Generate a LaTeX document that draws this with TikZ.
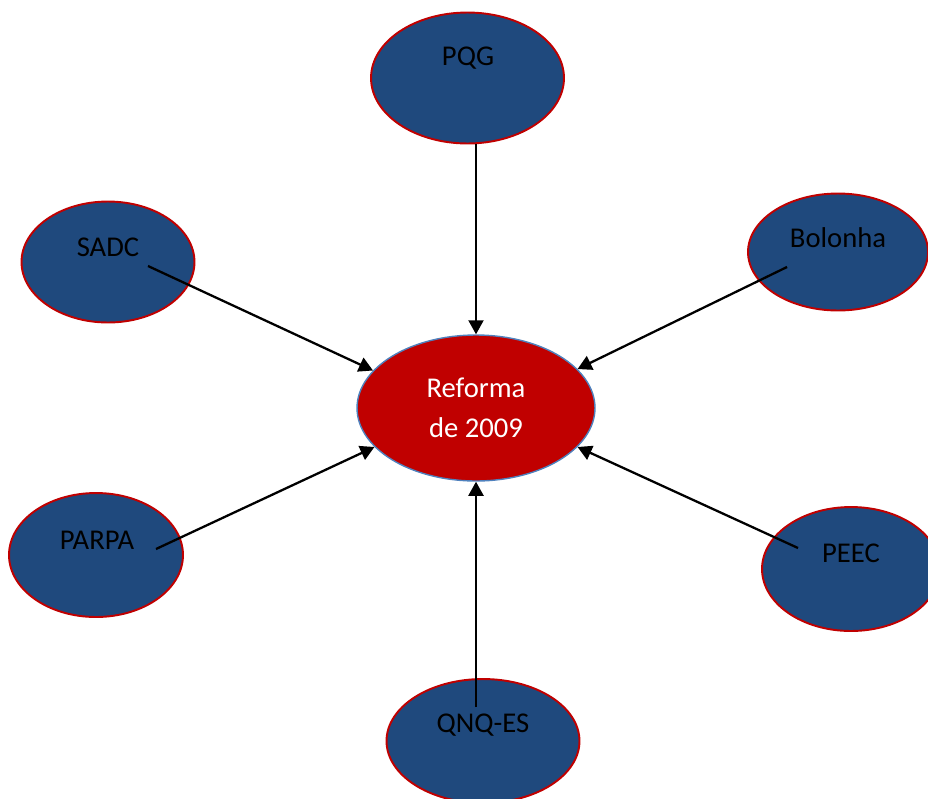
\documentclass[tikz,border=0pt]{standalone}
\usepackage{fontspec}
\setmainfont{Carlito}
\usepackage{tikz}
\usetikzlibrary{shapes.geometric, arrows.meta, positioning}
\usepackage{xcolor}

\definecolor{navyfill}{HTML}{1F497D}
\definecolor{rimred}{HTML}{C00000}
\definecolor{reformred}{HTML}{C00000}
\definecolor{rimblue}{HTML}{4F81BD}

\begin{document}
\begin{tikzpicture}[x=0.02cm, y=-0.02cm,
    source/.style={ellipse, draw=rimred, line width=1.1pt, fill=navyfill, inner sep=0pt},
    tag/.style={inner sep=0pt, text=black, font=\fontsize{16.3}{22.7}\selectfont},
    link/.style={-{Triangle[length=8pt, width=8.5pt]}, line width=1.3pt, black}]
    \clip (0,0) rectangle (928,798);
    \useasboundingbox (0,0) rectangle (928,798);

    % centre
    \node[ellipse, draw=rimblue, line width=0.8pt, fill=reformred, minimum width=4.76cm, minimum height=2.92cm,
          align=center, text=white, font=\fontsize{16.3}{22.7}\selectfont] (reforma) at (476,408) {Reforma\\de 2009};

    % outer ellipses
    \node[source, minimum width=3.86cm, minimum height=2.62cm] (pqg) at (467.5,78) {};
    \node[source, minimum width=3.46cm, minimum height=2.42cm] (sadc) at (108,262) {};
    \node[source, minimum width=3.6cm, minimum height=2.34cm] (bolonha) at (838,252) {};
    \node[source, minimum width=3.48cm, minimum height=2.48cm] (parpa) at (96,555) {};
    \node[source, minimum width=3.56cm, minimum height=2.48cm] (peec) at (851,569) {};
    \node[source, minimum width=3.86cm, minimum height=2.48cm] (qnq) at (483,741) {};

    % labels
    \node[tag] (pqg-txt) at (468,58) {PQG};
    \node[tag] (sadc-txt) at (108,247) {SADC};
    \node[tag] (bolonha-txt) at (838,238) {Bolonha};
    \node[tag] (parpa-txt) at (97,540) {PARPA};
    \node[tag] (peec-txt) at (851,553) {PEEC};
    \node[tag] (qnq-txt) at (483,725) {QNQ-ES};

    % arrow starts
    \coordinate (sadc-out) at (148,266);
    \coordinate (bolonha-out) at (787,267);
    \coordinate (parpa-out) at (156,549);
    \coordinate (peec-out) at (798,548);
    \coordinate (qnq-out) at (476,707);

    \draw[link] (pqg.south -| reforma.north) -- (reforma.north);
    \draw[link] (sadc-out) -- (reforma.160);
    \draw[link] (bolonha-out) -- (reforma.21);
    \draw[link] (parpa-out) -- (reforma.201);
    \draw[link] (peec-out) -- (reforma.339);
    \draw[link] (qnq-out) -- (reforma.south);
\end{tikzpicture}
\end{document}
